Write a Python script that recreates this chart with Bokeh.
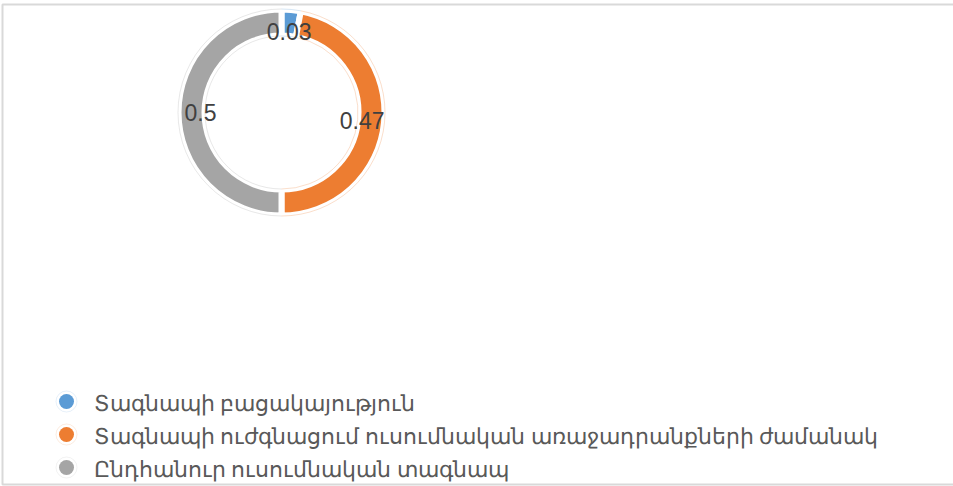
import math
from bokeh.plotting import figure
from bokeh.models import Range1d, ColumnDataSource
from bokeh.core.properties import value
from bokeh.embed import file_html
from bokeh.resources import INLINE

# ---- data ----
categories = [
    "Տագնապի բացակայություն",
    "Տագնապի ուժգնացում ուսումնական առաջադրանքների ժամանակ",
    "Ընդհանուր ուսումնական տագնապ",
]
values = [0.03, 0.47, 0.5]
labels = ["0.03", "0.47", "0.5"]
colors = ["#5B9BD5", "#ED7D31", "#A5A5A5"]

# ---- layout (window pixel coordinates) ----
W, H = 953, 486
CX, CY = 281, 112
R_OUT, R_IN = 100, 80
GAP = 6
LABEL_R = 81
LEG_X, LEG_Y0, LEG_DY = 66, 401, 33

p = figure(width=W, height=H, output_backend="svg", toolbar_location=None,
           x_range=Range1d(0, W), y_range=Range1d(-H, 0),
           min_border=0, outline_line_color=None)
p.axis.visible = False
p.grid.visible = False
p.background_fill_color = "white"
p.border_fill_color = "white"

# frame (open on the right, as in the original crop)
p.line(x=[W + 20, 2, 2, W + 20], y=[-4, -4, -484, -484], line_color="#d9d9d9", line_width=2)

total = sum(values)
starts, ends, mids = [], [], []
cum = 0.0
for v in values:
    a0 = math.pi / 2 - 2 * math.pi * cum / total
    cum += v
    a1 = math.pi / 2 - 2 * math.pi * cum / total
    starts.append(a0)
    ends.append(a1)
    mids.append((a0 + a1) / 2)

src = ColumnDataSource(dict(
    start=starts, end=ends, color=colors,
    lx=[CX + LABEL_R * math.cos(m) for m in mids],
    ly=[-CY + LABEL_R * math.sin(m) for m in mids],
    label=labels,
))

p.annular_wedge(x=CX, y=-CY, inner_radius=R_IN - GAP / 2, outer_radius=R_OUT + GAP / 2,
                start_angle="start", end_angle="end", direction="clock",
                fill_color="color", line_color="white", line_width=GAP, source=src)

# faint halo arcs
for r in (R_OUT + 3.5, R_IN - 3.5):
    p.arc(x=CX, y=-CY, radius=r, start_angle="start", end_angle="end", direction="clock",
          line_color="color", line_alpha=0.25, line_width=1, source=src)

p.text(x="lx", y="ly", text="label", source=src, text_align="center", text_baseline="middle",
       text_font=value("Liberation Sans"), text_font_size="23px", text_color="#404040")

# legend
leg = ColumnDataSource(dict(
    x=[LEG_X] * len(categories),
    y=[-(LEG_Y0 + i * LEG_DY) for i in range(len(categories))],
    tx=[LEG_X + 27] * len(categories),
    name=categories, color=colors,
))
p.scatter(x="x", y="y", size=21, fill_alpha=0, line_color="color", line_alpha=0.15, line_width=1, source=leg)
p.scatter(x="x", y="y", size=15, fill_color="color", line_color=None, source=leg)
p.text(x="tx", y="y", text="name", source=leg, text_align="left", text_baseline="middle",
       text_font=value("Noto Sans"), text_font_size="22px", text_color="#595959")

open("out.html", "w").write(file_html(p, INLINE))
